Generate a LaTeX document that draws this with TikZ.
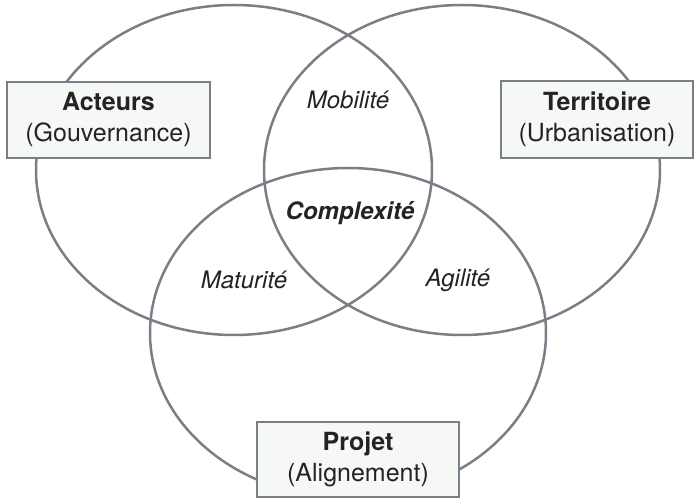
\documentclass[tikz,border=0pt]{standalone}
\usepackage{fontspec}
\setmainfont{TeX Gyre Heros}
\definecolor{rim}{RGB}{122,127,135}
\definecolor{boxfill}{RGB}{246,248,245}
\definecolor{ink}{RGB}{35,35,35}

\begin{document}
\begin{tikzpicture}[x=1pt,y=1pt,
  ring/.style={draw=rim,line width=2.5pt},
  pole/.style={draw=rim,fill=boxfill,line width=2.5pt,align=center,inner sep=0pt,
    font=\fontsize{25}{31}\selectfont,text=ink},
  zone/.style={font=\fontsize{24}{28}\selectfont\itshape,text=ink}]
 \useasboundingbox (0,0) rectangle (697,498);
 % the three sets
 \draw[ring] (234,328) ellipse (198 and 165);
 \draw[ring] (462,328) ellipse (198 and 165);
 \draw[ring] (348,165) ellipse (198 and 165);
 % labels of the sets
 \node[pole,minimum width=203,minimum height=76] (acteurs) at (108.5,378)
   {\textbf{Acteurs}\\(Gouvernance)};
 \node[pole,minimum width=192,minimum height=77] (territoire) at (597,378.5)
   {\textbf{Territoire}\\(Urbanisation)};
 \node[pole,minimum width=202,minimum height=75] (projet) at (358,38.5)
   {\textbf{Projet}\\(Alignement)};
 % overlaps
 \node[zone] (mobilite) at (348,398) {Mobilité};
 \node[zone] (maturite) at (244,218) {Maturité};
 \node[zone] (agilite) at (458,218) {Agilité};
 \node[zone,font=\fontsize{24}{28}\selectfont\bfseries\itshape] (complexite) at (350,285) {Complexité};
\end{tikzpicture}
\end{document}
